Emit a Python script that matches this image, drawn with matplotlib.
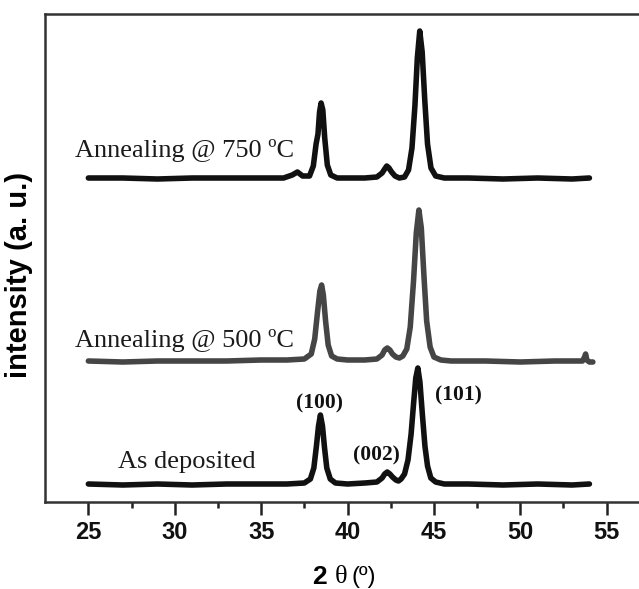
import matplotlib
matplotlib.use('Agg')
import matplotlib.pyplot as plt
import numpy as np

# ==========================================
# DATOS
# ==========================================
# Difractograma "As deposited"
TT_DEP = [25.0, 27.0, 29.0, 31.0, 33.0, 35.0, 36.5, 37.5, 37.85, 38.05, 38.2, 38.32, 38.43,
          38.55, 38.67, 38.8, 39.0, 39.3, 40.0, 41.0, 41.7, 42.0, 42.15, 42.3, 42.45, 42.6,
          42.8, 42.95, 43.1, 43.3, 43.5, 43.68, 43.83, 43.95, 44.07, 44.19, 44.33, 44.48,
          44.63, 44.82, 45.1, 45.6, 47.0, 49.0, 51.0, 53.0, 54.0]
I_DEP = [2, 1, 2, 1, 2, 2, 2, 3, 7, 18, 40, 60, 71,
         60, 38, 18, 7, 3, 2, 3, 4, 8, 12, 14, 12, 9,
         6, 5, 7, 12, 26, 52, 84, 108, 118, 104, 72, 40,
         20, 8, 4, 2, 2, 1, 2, 1, 2]

# Difractograma "Annealing @ 500 ºC"
TT_500 = [25.0, 27.0, 29.0, 31.0, 33.0, 35.0, 36.5, 37.5, 37.9, 38.1, 38.27, 38.4, 38.5,
          38.6, 38.73, 38.88, 39.08, 39.4, 40.0, 41.0, 41.7, 42.0, 42.15, 42.3, 42.45, 42.6,
          42.8, 43.0, 43.2, 43.43, 43.63, 43.82, 43.98, 44.13, 44.27, 44.43, 44.58, 44.78,
          45.0, 45.4, 46.0, 48.0, 50.0, 52.0, 53.6, 53.72, 53.78, 53.85, 54.0, 54.2]
I_500 = [2, 1, 2, 2, 2, 3, 3, 4, 9, 24, 52, 72, 78,
         68, 42, 18, 7, 4, 3, 3, 4, 8, 13, 15, 13, 9,
         6, 5, 7, 14, 36, 82, 130, 153, 135, 85, 42, 16,
         6, 3, 2, 2, 1, 2, 2, 6, 9, 3, 1, 1]

# Difractograma "Annealing @ 750 ºC"
TT_750 = [25.0, 27.0, 29.0, 31.0, 33.0, 35.0, 36.3, 36.8, 37.1, 37.4, 37.8, 38.02, 38.18,
          38.29, 38.38, 38.47, 38.57, 38.68, 38.83, 39.03, 39.4, 40.0, 41.0, 41.7, 42.0, 42.15,
          42.27, 42.4, 42.55, 42.75, 43.0, 43.3, 43.53, 43.73, 43.9, 44.04, 44.18, 44.32,
          44.47, 44.63, 44.83, 45.1, 45.6, 47.0, 49.0, 51.0, 53.0, 54.0]
I_750 = [2, 2, 1, 2, 2, 2, 2, 5, 8, 4, 4, 14, 36,
         46, 68, 77, 70, 42, 15, 5, 2, 2, 2, 3, 7, 11,
         14, 12, 8, 4, 2, 3, 10, 32, 74, 122, 149, 128, 80,
         36, 12, 4, 2, 2, 1, 2, 1, 2]

# Desplazamiento vertical de cada curva (unidades arbitrarias)
OFFSETS = [16, 139, 322]
COLORES = ['#111111', '#454545', '#111111']
ETIQUETAS = ['As deposited', 'Annealing @ 500 ºC', 'Annealing @ 750 ºC']
POS_ETIQUETAS = [(26.7, 40), (24.2, 162), (24.2, 352)]

PLANOS = ['(100)', '(002)', '(101)']
POS_PLANOS = [(38.4, 99), (41.7, 47), (46.4, 107)]

# ==========================================
# GRAFICO
# ==========================================
fig = plt.figure(figsize=(6.39, 5.89), dpi=100)
ax = fig.add_axes([45 / 639, 87 / 589, 1 - 45 / 639, 488 / 589])

curvas = [(TT_DEP, I_DEP), (TT_500, I_500), (TT_750, I_750)]
for (tt, inten), off, col in zip(curvas, OFFSETS, COLORES):
    ax.plot(tt, np.array(inten) + off, color=col, linewidth=4.0,
            solid_joinstyle='round', solid_capstyle='round')

for txt, (x, y) in zip(ETIQUETAS, POS_ETIQUETAS):
    ax.text(x, y, txt, fontsize=19, family='Liberation Serif', color='#1a1a1a',
            ha='left', va='center')

for txt, (x, y) in zip(PLANOS, POS_PLANOS):
    ax.text(x, y, txt, fontsize=15.5, family='Liberation Serif', fontweight='bold',
            color='#111111', ha='center', va='center')

ax.set_xlim(22.49, 56.87)
ax.set_ylim(0, 488)
ax.set_xticks([25, 30, 35, 40, 45, 50, 55])
ax.set_xticks(np.arange(27.5, 56, 5), minor=True)
ax.set_yticks([])
ax.tick_params(axis='x', which='major', length=9, width=1.8, color='#222222', pad=5)
ax.tick_params(axis='x', which='minor', length=4, width=1.8, color='#222222')
for lab in ax.get_xticklabels():
    lab.set_fontfamily('Liberation Sans')
    lab.set_fontweight('bold')
    lab.set_fontsize(17)
    lab.set_color('#111111')

ax.spines['right'].set_visible(False)
for lado in ['left', 'top', 'bottom']:
    ax.spines[lado].set_linewidth(1.8)
    ax.spines[lado].set_color('#333333')

# Etiquetas de ejes
fig.text(19 / 639, 314 / 589, 'intensity (a. u.)', rotation=90, fontsize=21,
         family='Liberation Sans', fontweight='bold', ha='center', va='center')
fig.text(327 / 639, 12 / 589, '2', fontsize=19, family='Liberation Sans',
         fontweight='bold', ha='right', va='center')
fig.text(341 / 639, 12 / 589, 'θ', fontsize=19, family='Liberation Serif',
         ha='center', va='center')
fig.text(351 / 639, 12 / 589, '(º)', fontsize=17, family='Liberation Sans',
         ha='left', va='center')

fig.savefig('out.png', dpi=100)
